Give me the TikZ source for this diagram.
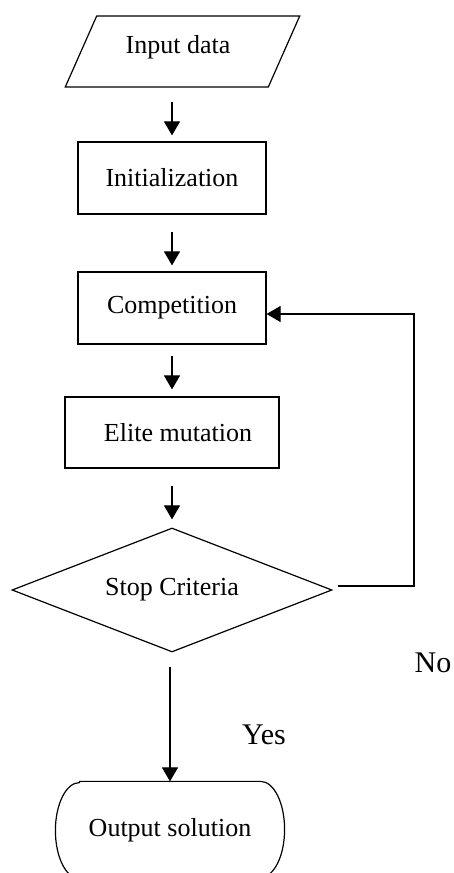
\documentclass[tikz,border=0pt]{standalone}
\usepackage{fontspec}
\setmainfont{Liberation Serif}
\usetikzlibrary{positioning, arrows.meta, shapes.geometric}

\begin{document}
\begin{tikzpicture}[
    x=1pt, y=1pt,
    line width=1.2pt,
    font=\fontsize{26}{31}\selectfont,
    box/.style={rectangle, draw, minimum width=188, minimum height=72, inner sep=0pt},
    iobox/.style={trapezium, draw, trapezium left angle=57, trapezium right angle=123, trapezium stretches=true, minimum width=235, minimum height=71, inner sep=0pt},
    decision/.style={diamond, draw, aspect=2.58, minimum width=320, minimum height=124, inner sep=0pt},
    terminal/.style={rectangle, minimum width=228, minimum height=96, inner sep=0pt},
    flow/.style={-{Triangle[length=14pt, width=16pt]}},
    answer/.style={font=\fontsize{30}{36}\selectfont}
]
\useasboundingbox (0,0) rectangle (453,873);

% ==================== NODES ====================
\node[iobox] (input) at (182.5,821.5) {\raisebox{14pt}{Input data}\kern9pt};
\node[box] (init) at (172,695) {Initialization};
\node[box] (competition) at (172,565) {Competition};
\node[box, minimum width=214, minimum height=71] (elite) at (172,440.5) {\kern12pt Elite mutation};
\node[decision] (stop) at (172,283) {Stop Criteria};
\node[terminal] (output) at (170,43) {Output solution};

% terminal outline
\draw ([xshift=24]output.north west) -- ([xshift=-24]output.north east)
    arc[start angle=90, end angle=-90, x radius=24, y radius=48]
    -- ([xshift=24]output.south west)
    arc[start angle=270, end angle=90, x radius=24, y radius=48] -- cycle;

% ==================== LABELS ====================
\node[answer] (nolabel) at (433,210) {No};
\node[answer] (yeslabel) at (264,138) {Yes};

% ==================== ARROWS ====================
\draw[flow, shorten <=14pt, shorten >=6pt] (input.south -| init.north) -- (init.north);
\draw[flow, shorten <=17pt, shorten >=6pt] (init.south) -- (competition.north);
\draw[flow, shorten <=11pt, shorten >=7pt] (competition.south) -- (elite.north);
\draw[flow, shorten <=17pt, shorten >=8pt] (elite.south) -- (stop.north);
\draw[flow, shorten <=14pt] (stop.south -| output.north) -- (output.north);

% loop back
\coordinate (loopback) at (414,0);
\draw[flow] ([xshift=5,yshift=4]stop.east) -- ([yshift=4]stop.east -| loopback) |- ([yshift=-6]competition.east);

\end{tikzpicture}
\end{document}
